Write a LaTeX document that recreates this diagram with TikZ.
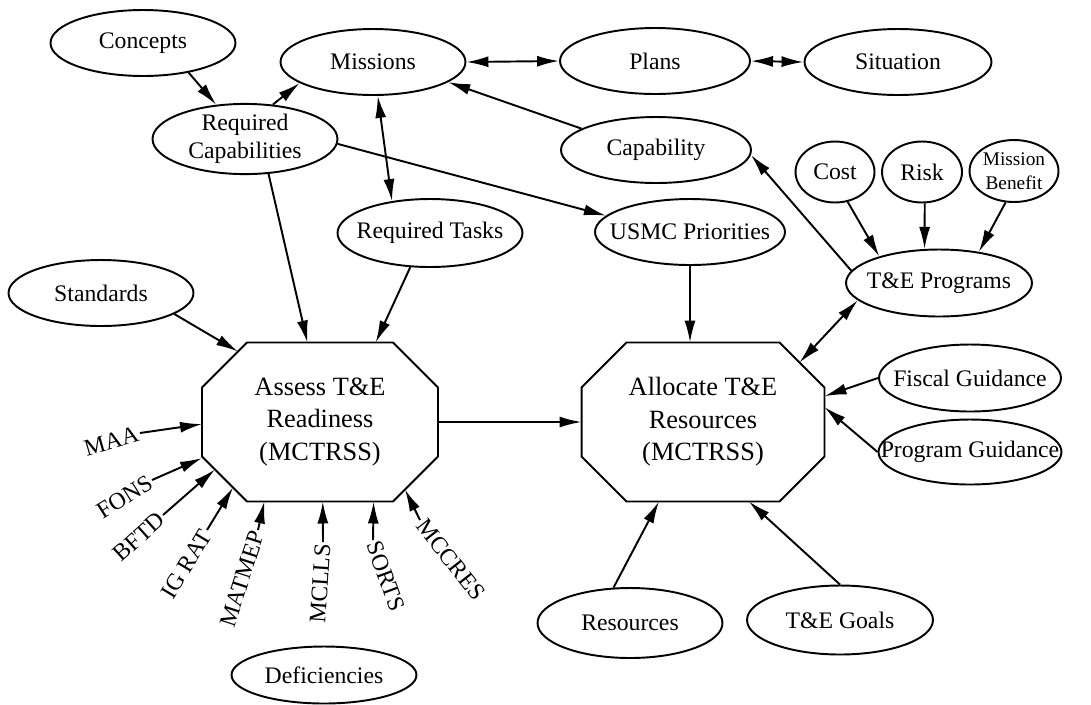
\documentclass[tikz,border=0pt]{standalone}
\usepackage{fontspec}
\setmainfont{Liberation Serif}
\usetikzlibrary{arrows.meta, shapes.geometric, calc}

\tikzset{
  oval/.style={ellipse, draw, line width=1.1pt, minimum width=3.7cm,
    minimum height=1.32cm, inner sep=0pt, align=center,
    font=\fontsize{13.5}{16}\selectfont},
  procbox/.style={rectangle, minimum width=4.72cm, minimum height=3.18cm,
    inner sep=0pt, outer sep=0pt, align=center,
    font=\fontsize{15}{18.5}\selectfont},
  feed/.style={font=\fontsize{13.5}{16}\selectfont, inner sep=1pt},
  arr/.style={line width=1.1pt, -{Latex[length=0.44cm,width=0.22cm]}},
  darr/.style={line width=1.1pt,
    {Latex[length=0.44cm,width=0.22cm]}-{Latex[length=0.44cm,width=0.22cm]}},
}
\newcommand{\tw}[1]{\makebox[0pt]{#1}}
\newcommand{\chamf}{0.9cm}
% octagon round a procbox node
\newcommand{\octagonof}[1]{%
  \draw[line width=1.1pt] ([xshift=\chamf]#1.north west) -- ([xshift=-\chamf]#1.north east)
    -- ([yshift=-\chamf]#1.north east) -- ([yshift=\chamf]#1.south east)
    -- ([xshift=-\chamf]#1.south east) -- ([xshift=\chamf]#1.south west)
    -- ([yshift=\chamf]#1.south west) -- ([yshift=-\chamf]#1.north west) -- cycle;}

\begin{document}
\begin{tikzpicture}[x=0.02cm, y=-0.02cm]
  \useasboundingbox (0,0) rectangle (1091,704);
  % Top row
  \node[oval] (concepts) at (143,43) {\tw{Concepts}};
  \node[oval] (missions) at (373,62) {\tw{Missions}};
  \node[oval, minimum width=3.8cm] (plans) at (655,61) {\tw{Plans}};
  \node[oval, minimum width=3.74cm] (situation) at (898,62) {\tw{Situation}};
  \node[oval] (reqcap) at (245,139) {\tw{Required}\\\tw{Capabilities}};
  \node[oval, minimum width=3.8cm] (capability) at (656,150) {\tw{Capability}};
  % Program inputs
  \node[oval, minimum width=1.58cm, minimum height=1.22cm] (cost) at (835,172) {\tw{Cost}};
  \node[oval, minimum width=1.6cm, minimum height=1.22cm] (risk) at (922,172) {\tw{Risk}};
  \node[oval, minimum width=1.78cm, minimum height=1.24cm,
    font=\fontsize{11}{13.5}\selectfont] (benefit) at (1014,171) {\tw{Mission}\\\tw{Benefit}};
  \node[oval, minimum height=1.36cm] (reqtasks) at (430,233) {\tw{Required Tasks}};
  \node[oval, minimum width=3.8cm] (usmc) at (690,232) {\tw{USMC Priorities}};
  \node[oval, minimum width=3.72cm, minimum height=1.34cm] (programs) at (939,283) {\tw{T\&E Programs}};
  \node[oval] (standards) at (101,293) {\tw{Standards}};
  % Processes
  \node[procbox] (assess) at (320,422) {Assess T\&E\\Readiness\\(MCTRSS)};
  \node[procbox, minimum width=4.86cm] (allocate) at (703,422) {Allocate T\&E\\Resources\\(MCTRSS)};
  \octagonof{assess}
  \octagonof{allocate}
  % Right and bottom
  \node[oval, minimum width=3.64cm, minimum height=1.34cm] (fiscal) at (970,378) {\tw{Fiscal Guidance}};
  \node[oval, minimum width=3.66cm, minimum height=1.3cm] (guidance) at (970,452) {\tw{Program Guidance}};
  \node[oval, minimum height=1.4cm] (resources) at (630,623) {\tw{Resources}};
  \node[oval, minimum width=3.72cm, minimum height=1.38cm] (goals) at (840,620) {\tw{T\&E Goals}};
  \node[oval, minimum height=1.14cm] (deficiencies) at (324,675) {\tw{Deficiencies}};

  % Points on the cut corners
  \coordinate (stdin) at ($(assess.north west)+(36,9)$);
  \coordinate (bftdin) at ($(assess.south west)+(13,-32)$);
  \coordinate (igin) at ($(assess.south west)+(31,-14)$);
  \coordinate (mccin) at ($(assess.south east)+(-33,-12)$);
  \coordinate (progin) at ($(allocate.north east)+(-25,20)$);

  % Links in the upper part
  \draw[arr] (concepts.-33) -- (reqcap.130);
  \draw[arr] (reqcap.51) -- (missions.196);
  \draw[darr] (missions.east) -- (plans.west);
  \draw[darr] (plans.east) -- (situation.west);
  \draw[arr] (capability.164) -- (missions.-15);
  \draw[darr] (missions.-82) -- (reqtasks.140);
  \draw[arr] (reqcap.-3) -- (usmc.169);
  \draw[arr] (reqcap.-56) -- (assess.99);
  \draw[arr] (reqtasks.-120) -- (assess.55);
  \draw[arr] (standards.-16) -- (stdin);
  \draw[arr] (usmc.south) -- (usmc.south |- allocate.north);
  \draw[arr] (assess.east) -- (allocate.west);
  % T&E programs
  \draw[arr] (programs.172) -- (capability.-3);
  \draw[arr] (cost.-67) -- (programs.156);
  \draw[arr] (risk.-85) -- (programs.113);
  \draw[arr] (benefit.-105) -- (programs.38);
  \draw[darr] (programs.192) -- (progin);
  \draw[arr] (fiscal.west) -- (allocate.12);
  \draw[arr] (guidance.west) -- (allocate.7);
  \draw[arr] (resources.115) -- (allocate.241);
  \draw[arr] (goals.north) -- (allocate.300);
  % Readiness sources
  \foreach \nm/\txt/\ang/\side/\px/\py/\tip in {
      maa/MAA/16/east/140/433/assess.181, fons/FONS/32/east/152/480/assess.197,
      bftd/BFTD/42/east/163/515/bftdin, igrat/IG RAT/59/east/207/530/igin,
      matmep/MATMEP/72/east/258/530/assess.235, mclls/MCLLS/86/east/323/542/assess.272,
      sorts/SORTS/-70/west/373/540/assess.304, mccres/MCCRES/-52/west/420/520/mccin}
  {
    \node[feed, rotate=\ang, anchor=\side] (\nm) at (\px,\py) {\txt};
    \draw[arr] (\nm.\side) -- (\tip);
  }
\end{tikzpicture}
\end{document}
